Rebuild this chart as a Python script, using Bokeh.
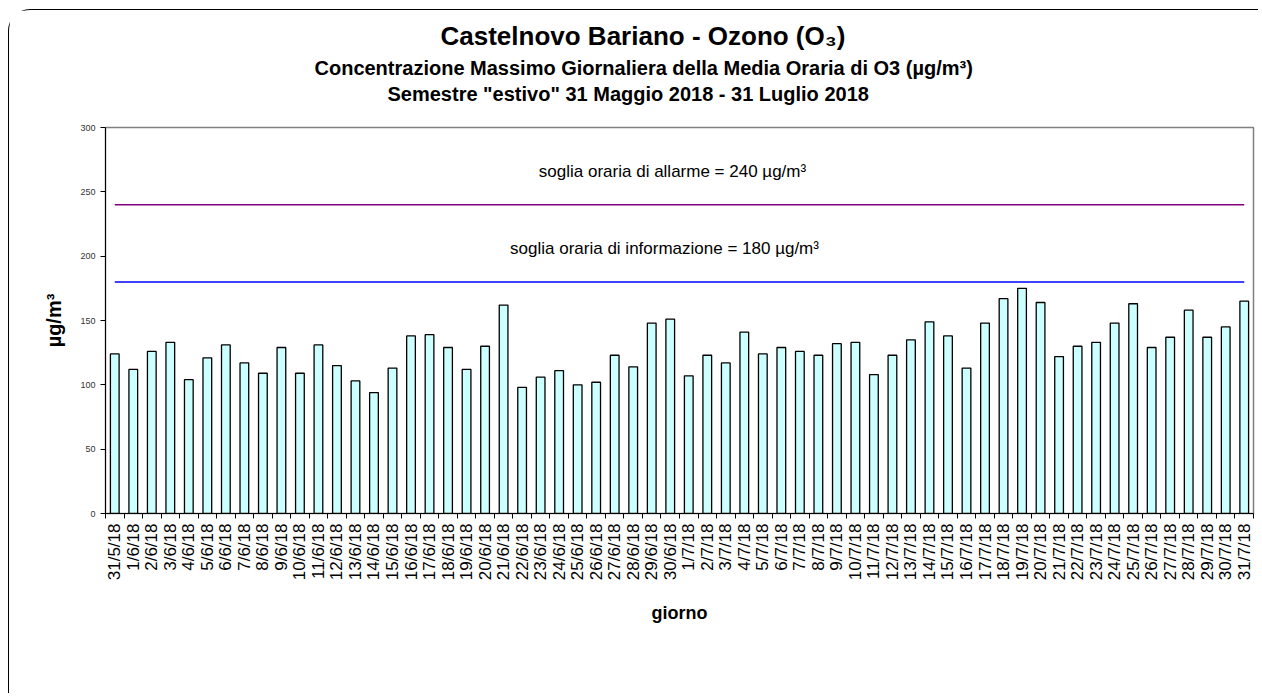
import math
from bokeh.plotting import figure
from bokeh.models import FixedTicker, Title, Range1d, ColumnDataSource
from bokeh.core.properties import value
from bokeh.embed import file_html
from bokeh.resources import INLINE

dates = [
    "31/5/18",
    "1/6/18", "2/6/18", "3/6/18", "4/6/18", "5/6/18", "6/6/18", "7/6/18", "8/6/18", "9/6/18", "10/6/18",
    "11/6/18", "12/6/18", "13/6/18", "14/6/18", "15/6/18", "16/6/18", "17/6/18", "18/6/18", "19/6/18", "20/6/18",
    "21/6/18", "22/6/18", "23/6/18", "24/6/18", "25/6/18", "26/6/18", "27/6/18", "28/6/18", "29/6/18", "30/6/18",
    "1/7/18", "2/7/18", "3/7/18", "4/7/18", "5/7/18", "6/7/18", "7/7/18", "8/7/18", "9/7/18", "10/7/18",
    "11/7/18", "12/7/18", "13/7/18", "14/7/18", "15/7/18", "16/7/18", "17/7/18", "18/7/18", "19/7/18", "20/7/18",
    "21/7/18", "22/7/18", "23/7/18", "24/7/18", "25/7/18", "26/7/18", "27/7/18", "28/7/18", "29/7/18", "30/7/18",
    "31/7/18",
]
ozone = [
    124, 112, 126, 133, 104, 121, 131, 117, 109, 129, 109, 131, 115, 103, 94, 113, 138, 139, 129,
    112, 130, 162, 98, 106, 111, 100, 102, 123, 114, 148, 151,
    107, 123, 117, 141, 124, 129, 126, 123, 132, 133,
    108, 123, 135, 149, 138, 113, 148, 167, 175, 164, 122, 130, 133, 148, 163, 129, 137, 158, 137, 145, 165,
]
alarm_threshold = 240
info_threshold = 180
alarm_label = "soglia oraria di allarme = 240 µg/m³"
info_label = "soglia oraria di informazione = 180 µg/m³"
y_ticks = [0, 50, 100, 150, 200, 250, 300]
title = "Castelnovo Bariano - Ozono (O₃)"
subtitle1 = "Concentrazione  Massimo Giornaliera della Media Oraria di O3 (µg/m³)"
subtitle2 = 'Semestre "estivo" 31 Maggio 2018 - 31 Luglio 2018'

FONT = "Liberation Sans"
n = len(dates)
idx = list(range(n))

p = figure(width=1250, height=684, x_range=Range1d(-0.5, n - 0.5), y_range=Range1d(0, 300),
           output_backend="svg", toolbar_location=None,
           min_border_left=96, min_border_right=6, min_border_top=117, min_border_bottom=181)
p.styles = {"margin-left": "8px", "margin-top": "9px",
            "border-left": "1.5px solid black", "border-top": "1.5px solid black",
            "border-top-left-radius": "22px"}

# spacer between plot frame and the title block
p.add_layout(Title(text=" ", text_font_size="10px", standoff=8), "above")
p.add_layout(Title(text=subtitle2, align="left", offset=282, standoff=4, text_color="black",
                   text_font=FONT, text_font_size="20px", text_font_style="bold"), "above")
p.add_layout(Title(text=subtitle1, align="left", offset=209, standoff=0, text_color="black",
                   text_font=FONT, text_font_size="20px", text_font_style="bold"), "above")
p.add_layout(Title(text=title, align="left", offset=335, standoff=7, text_color="black",
                   text_font=FONT, text_font_size="26px", text_font_style="bold"), "above")

src = ColumnDataSource(dict(x=idx, y=ozone))
p.vbar(x="x", top="y", width=0.47, bottom=0, source=src,
       fill_color="#CCFFFF", line_color="black", line_width=1.3)

p.line(x=[idx[0], idx[-1]], y=[alarm_threshold] * 2, line_color="#800080", line_width=1.5)
p.line(x=[idx[0], idx[-1]], y=[info_threshold] * 2, line_color="#0000FF", line_width=1.5)

mid = (idx[0] + idx[-1]) / 2
p.text(x=[mid], y=[alarm_threshold + 26], text=[alarm_label], text_align="center", x_offset=-7,
       text_baseline="middle", text_font=value(FONT), text_font_size="17px", text_color="black")
p.text(x=[mid], y=[info_threshold + 26], text=[info_label], text_align="center", x_offset=-15,
       text_baseline="middle", text_font=value(FONT), text_font_size="17px", text_color="black")

p.xgrid.visible = False
p.ygrid.visible = False
p.outline_line_color = "#808080"
p.outline_line_width = 1.5

xa = p.xaxis[0]
xa.ticker = FixedTicker(ticks=idx, minor_ticks=[i - 0.5 for i in range(n + 1)])
xa.major_label_overrides = {i: d for i, d in enumerate(dates)}
xa.major_label_orientation = math.pi / 2
xa.major_tick_line_color = None
xa.major_tick_out = 5
xa.major_tick_in = 0
xa.minor_tick_out = 5
xa.minor_tick_in = 0
xa.minor_tick_line_color = "black"
xa.major_label_text_font = FONT
xa.major_label_text_font_size = "17px"
xa.major_label_text_color = "black"
xa.axis_line_color = "black"
xa.axis_label = "giorno"
xa.axis_label_text_font = FONT
xa.axis_label_text_font_size = "18px"
xa.axis_label_text_font_style = "bold"
xa.axis_label_text_color = "black"
xa.axis_label_standoff = 20

ya = p.yaxis[0]
ya.ticker = FixedTicker(ticks=y_ticks)
ya.major_tick_out = 5
ya.major_tick_in = 0
ya.minor_tick_line_color = None
ya.major_label_text_font = FONT
ya.major_label_text_font_size = "9px"
ya.major_label_text_color = "#333333"
ya.axis_line_color = "black"
ya.axis_label = "µg/m³"
ya.axis_label_text_font = FONT
ya.axis_label_text_font_size = "20px"
ya.axis_label_text_font_style = "bold"
ya.axis_label_text_color = "black"
ya.axis_label_standoff = 12

open("out.html", "w").write(file_html(p, INLINE))
